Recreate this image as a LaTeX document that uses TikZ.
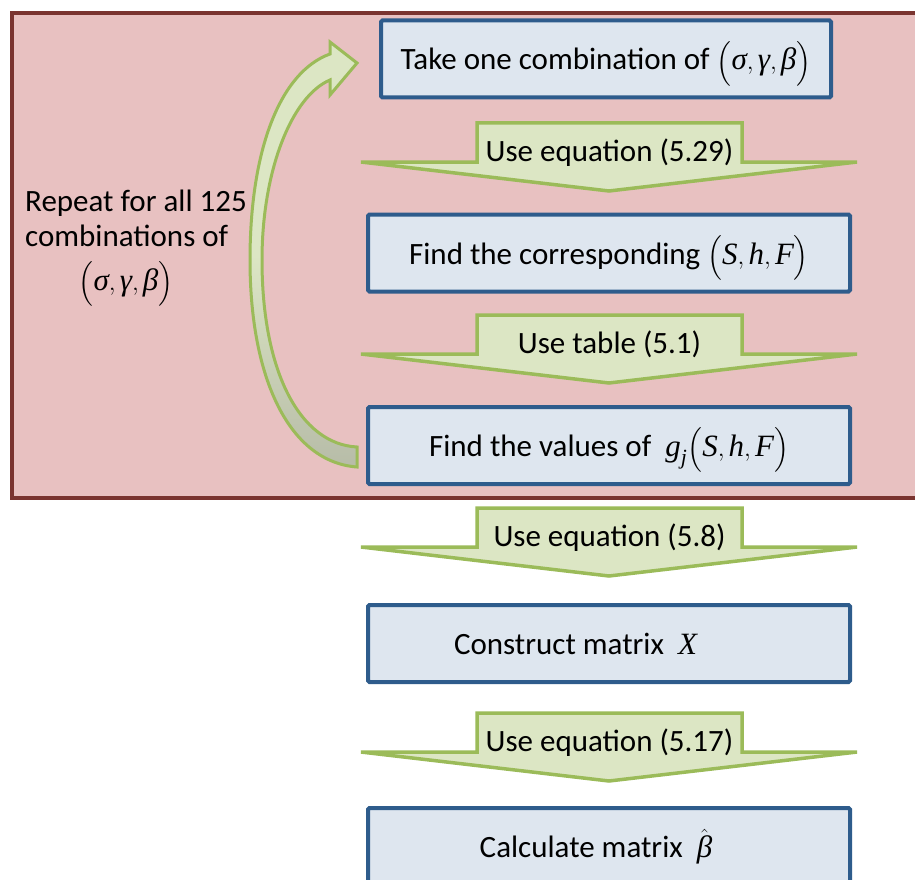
\documentclass[tikz,border=0pt]{standalone}
\usepackage{amsmath}
\usepackage{fontspec}
\setmainfont{Carlito}
\newfontfamily\lserif{Liberation Serif}
\newcommand\mv[1]{{\lserif\itshape #1}}
\newcommand\tpl[3]{$\left(\vrule height 27pt depth 0pt width 0pt\text{\mv{#1}},\text{\mv{#2}},\text{\mv{#3}}\right)$}
\definecolor{redfill}{RGB}{232,193,193}
\definecolor{redline}{RGB}{122,52,48}
\definecolor{boxfill}{RGB}{222,230,239}
\definecolor{boxline}{RGB}{46,92,140}
\definecolor{grfill}{RGB}{220,230,196}
\definecolor{grline}{RGB}{155,187,89}
\definecolor{grtail}{RGB}{183,188,168}
\tikzset{
  txt/.style={font=\fontsize{31}{36}\selectfont, inner sep=0pt},
  stepbox/.style={txt, draw=boxline, line width=4pt, fill=boxfill, rounded corners=1.5pt,
    minimum height=77pt, text height=24pt, text depth=2pt},
  gcall/.style={draw=grline, line width=3.5pt, fill=grfill, line join=miter},
  loopbox/.style={draw=redline, line width=4pt, fill=redfill},
  looparrow/.style={draw=grline, line width=3pt, line join=miter,
    top color=grfill, bottom color=grtail, middle color=grfill},
}
\newcommand\usearrow[3]{%
  \draw[gcall] (477,#2) -- (742,#2) -- (742,#2+39) -- (857,#2+39) -- (609,#2+68)
    -- (361,#2+39) -- (477,#2+39) -- cycle;
  \node[txt, anchor=base] (#1) at (609.5,#2+38) {#3};}
\begin{document}
\begin{tikzpicture}[x=1pt,y=-1pt]
\clip (0,0) rectangle (915,880);
\fill[white] (0,0) rectangle (915,880);
% loop region
\draw[loopbox] (12,13) rectangle (935,498);
% steps
\node[stepbox, minimum width=450pt] (b1) at (606,59) {Take one combination of \tpl{σ}{γ}{β}};
\node[stepbox, minimum width=482pt] (b2) at (609,253) {Find the corresponding \tpl{S}{h}{F}};
\node[stepbox, minimum width=482pt] (b3) at (609,445.5) {Find the values of\ \ $\text{\mv{g}}_{\text{\mv{j}}}$\tpl{S}{h}{F}};
\node[stepbox, minimum width=482pt] (b4) at (609,643.5) {Construct matrix\ \ $\text{\mv{X}}$\hspace*{67pt}};
\node[stepbox, minimum width=482pt] (b5) at (609,846.5) {Calculate matrix\ \ $\hat{\text{\mv{β}}}$\hspace*{26pt}};
% block arrows between steps
\usearrow{a1}{123}{Use equation (5.29)}
\usearrow{a2}{315}{Use table (5.1)}
\usearrow{a3}{508}{Use equation (5.8)}
\usearrow{a4}{713}{Use equation (5.17)}
% loop-back arrow
\draw[looparrow] (357,467) .. controls (290,462) and (250,380) .. (250,260)
  .. controls (250,150) and (280,72) .. (330,54) -- (330,42) -- (357,63) -- (330,95)
  -- (330,80) .. controls (292,96) and (262,170) .. (262,260)
  .. controls (262,372) and (300,444) .. (357,447) -- cycle;
% loop label
\node[txt, anchor=base west, text depth=0pt] (rep1) at (25,211) {Repeat for all 125};
\node[txt, anchor=base west, text depth=0pt] (rep2) at (25,246) {combinations of};
\node[txt, anchor=base, text height=22pt] (rep3) at (126,290) {\tpl{σ}{γ}{β}};
\end{tikzpicture}
\end{document}
